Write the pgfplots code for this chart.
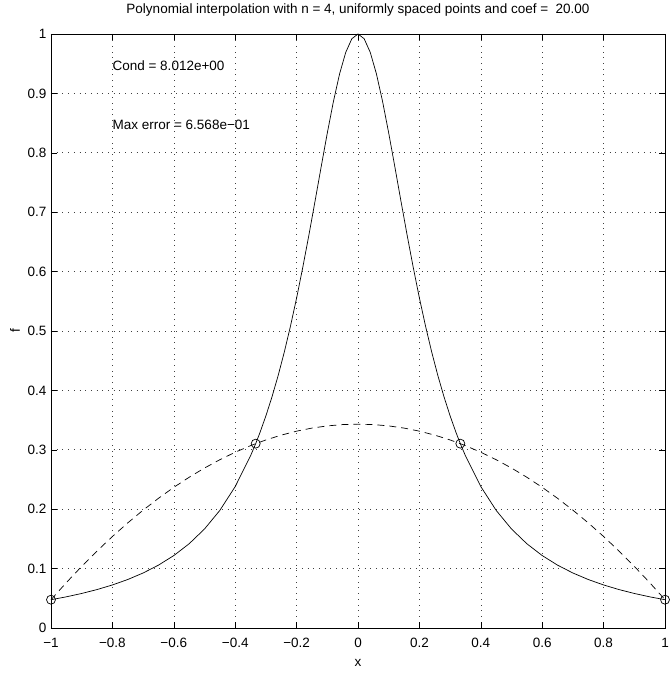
\documentclass[border=0pt]{standalone}
\usepackage{fontspec}
\setmainfont{Liberation Sans}
\usepackage{pgfplots}
\pgfplotsset{compat=1.18}
\newcommand{\mfont}{\fontsize{13.5}{16}\selectfont}
\begin{document}
\begin{tikzpicture}
\begin{axis}[
  scale only axis,
  width=614pt, height=594pt,
  xmin=-1, xmax=1, ymin=0, ymax=1,
  xtick={-1,-0.8,-0.6,-0.4,-0.2,0,0.2,0.4,0.6,0.8,1},
  xticklabels={−1,−0.8,−0.6,−0.4,−0.2,0,0.2,0.4,0.6,0.8,1},
  ytick={0,0.1,0.2,0.3,0.4,0.5,0.6,0.7,0.8,0.9,1},
  yticklabels={0,0.1,0.2,0.3,0.4,0.5,0.6,0.7,0.8,0.9,1},
  tick align=inside, xtick pos=both, ytick pos=both,
  major tick length=6pt,
  tick style={black, line width=0.5pt},
  grid=major,
  major grid style={black!75, line width=0.6pt, dash pattern=on 0.7pt off 5pt},
  axis line style={black, line width=0.9pt},
  ticklabel style={font=\mfont},
  xticklabel style={yshift=-7pt},
  yticklabel style={xshift=-1pt},
  title={Polynomial interpolation with n = 4, uniformly spaced points and coef =\ \ 20.00},
  title style={font=\mfont, at={(axis description cs:0.5,1.0303)}, anchor=center},
  xlabel={x}, ylabel={f},
  label style={font=\mfont},
  xlabel style={at={(axis description cs:0.5,-0.0589)}, anchor=center},
  ylabel style={at={(axis description cs:-0.0586,0.5)}, anchor=center},
  clip=false,
]
\addplot[black, line width=0.7pt] coordinates {
(-1.00,0.04762) (-0.95,0.05249) (-0.90,0.05814) (-0.85,0.06472) (-0.80,0.07246)
(-0.75,0.08163) (-0.70,0.09259) (-0.65,0.10582) (-0.60,0.12195) (-0.55,0.14184)
(-0.50,0.16667) (-0.45,0.19802) (-0.40,0.23810) (-0.35,0.28986) (-0.3333,0.31034)
(-0.32,0.32808) (-0.30,0.35714) (-0.28,0.38941) (-0.26,0.42517) (-0.24,0.46468)
(-0.22,0.50813) (-0.20,0.55556) (-0.18,0.60680) (-0.16,0.66138) (-0.14,0.71839)
(-0.12,0.77640) (-0.10,0.83333) (-0.08,0.88652) (-0.06,0.93284) (-0.04,0.96899)
(-0.02,0.99206) (0,1)
(0.02,0.99206) (0.04,0.96899) (0.06,0.93284) (0.08,0.88652) (0.10,0.83333)
(0.12,0.77640) (0.14,0.71839) (0.16,0.66138) (0.18,0.60680) (0.20,0.55556)
(0.22,0.50813) (0.24,0.46468) (0.26,0.42517) (0.28,0.38941) (0.30,0.35714)
(0.32,0.32808) (0.3333,0.31034) (0.35,0.28986) (0.40,0.23810) (0.45,0.19802)
(0.50,0.16667) (0.55,0.14184) (0.60,0.12195) (0.65,0.10582) (0.70,0.09259)
(0.75,0.08163) (0.80,0.07246) (0.85,0.06472) (0.90,0.05814) (0.95,0.05249)
(1.00,0.04762)
};
\addplot[black, line width=0.7pt, dash pattern=on 7pt off 5pt] coordinates {
(-1.00,0.04762) (-0.95,0.07644) (-0.90,0.10378) (-0.85,0.12964) (-0.80,0.15403)
(-0.75,0.17693) (-0.70,0.19836) (-0.65,0.21831) (-0.60,0.23679) (-0.55,0.25378)
(-0.50,0.26930) (-0.45,0.28333) (-0.40,0.29590) (-0.35,0.30698) (-0.30,0.31659)
(-0.25,0.32471) (-0.20,0.33137) (-0.15,0.33654) (-0.10,0.34023) (-0.05,0.34245)
(0,0.34319)
(0.05,0.34245) (0.10,0.34023) (0.15,0.33654) (0.20,0.33137) (0.25,0.32471)
(0.30,0.31659) (0.35,0.30698) (0.40,0.29590) (0.45,0.28333) (0.50,0.26930)
(0.55,0.25378) (0.60,0.23679) (0.65,0.21831) (0.70,0.19836) (0.75,0.17693)
(0.80,0.15403) (0.85,0.12964) (0.90,0.10378) (0.95,0.07644) (1.00,0.04762)
};
\addplot[only marks, mark=o, mark size=4.5pt, mark options={line width=0.7pt}, black] coordinates {
(-1,0.04762) (-0.3333,0.31034) (0.3333,0.31034) (1,0.04762)
};
\node[anchor=west, inner sep=0pt, font=\mfont] at (axis cs:-0.8,0.947) {Cond = 8.012e+00};
\node[anchor=west, inner sep=0pt, font=\mfont] at (axis cs:-0.8,0.847) {Max error = 6.568e−01};
\end{axis}
\pgfresetboundingbox
\path[use as bounding box] ([xshift=-51pt,yshift=-45pt]current axis.south west) rectangle ([xshift=4pt,yshift=34pt]current axis.north east);
\end{tikzpicture}
\end{document}
